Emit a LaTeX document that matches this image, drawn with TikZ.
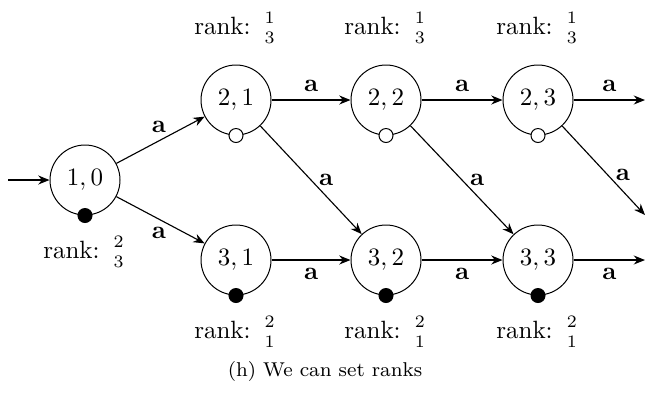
\documentclass[tikz,border=0pt]{standalone}
\usepackage{amsmath}
\usetikzlibrary{arrows.meta}
\newcommand{\rk}[2]{rank: ${\nulldelimiterspace=0pt\genfrac{}{}{0pt}{1}{#1}{#2}}$}
\begin{document}
\begin{tikzpicture}[x=0.4pt,y=-0.4pt,
  state/.style={draw,circle,minimum size=28pt,inner sep=0pt,font=\normalsize},
  closed/.style={draw,circle,fill=black,minimum size=5.6pt,inner sep=0pt},
  open/.style={draw,circle,fill=white,minimum size=5.6pt,inner sep=0pt},
  trans/.style={-{Stealth[length=4.5pt,width=3.6pt]},line width=0.45pt},
  lbl/.style={font=\normalsize,inner sep=3pt}]
\useasboundingbox (0,0) rectangle (645,396);

% states
\node[state] (q10) at (85,180) {$1,0$};
\node[state] (q21) at (236,100) {$2,1$};
\node[state] (q22) at (386,100) {$2,2$};
\node[state] (q23) at (538,100) {$2,3$};
\node[state] (q31) at (236,260) {$3,1$};
\node[state] (q32) at (386,260) {$3,2$};
\node[state] (q33) at (538,260) {$3,3$};

% free ends of the outgoing edges
\coordinate (start) at (8,180);
\coordinate (e23) at (645,100);
\coordinate (d23) at (645,215);
\coordinate (e33) at (645,260);

% transitions
\draw[trans] (start) -- (q10);
\draw[trans] (q10) -- node[lbl,above,pos=0.48] {$\mathbf{a}$} (q21);
\draw[trans] (q10) -- node[lbl,below,pos=0.48] {$\mathbf{a}$} (q31);
\draw[trans] (q21) -- node[lbl,above] {$\mathbf{a}$} (q22);
\draw[trans] (q22) -- node[lbl,above] {$\mathbf{a}$} (q23);
\draw[trans] (q23) -- node[lbl,above] {$\mathbf{a}$} (e23);
\draw[trans] (q21) -- node[lbl,right] {$\mathbf{a}$} (q32);
\draw[trans] (q22) -- node[lbl,right] {$\mathbf{a}$} (q33);
\draw[trans] (q23) -- node[lbl,right,pos=0.55] {$\mathbf{a}$} (d23);
\draw[trans] (q31) -- node[lbl,below] {$\mathbf{a}$} (q32);
\draw[trans] (q32) -- node[lbl,below] {$\mathbf{a}$} (q33);
\draw[trans] (q33) -- node[lbl,below] {$\mathbf{a}$} (e33);

% markers on the states
\node[closed] (m10) at (q10.south) {};
\node[open] (m21) at (q21.south) {};
\node[open] (m22) at (q22.south) {};
\node[open] (m23) at (q23.south) {};
\node[closed] (m31) at (q31.south) {};
\node[closed] (m32) at (q32.south) {};
\node[closed] (m33) at (q33.south) {};

% ranks
\node (r10) at (85,252) {\rk{2}{3}};
\node (r21) at (236,28) {\rk{1}{3}};
\node (r22) at (386,28) {\rk{1}{3}};
\node (r23) at (538,28) {\rk{1}{3}};
\node (r31) at (236,332) {\rk{2}{1}};
\node (r32) at (386,332) {\rk{2}{1}};
\node (r33) at (538,332) {\rk{2}{1}};

% caption
\node[font=\footnotesize] (cap) at (325,371) {(h) We can set ranks};
\end{tikzpicture}
\end{document}
